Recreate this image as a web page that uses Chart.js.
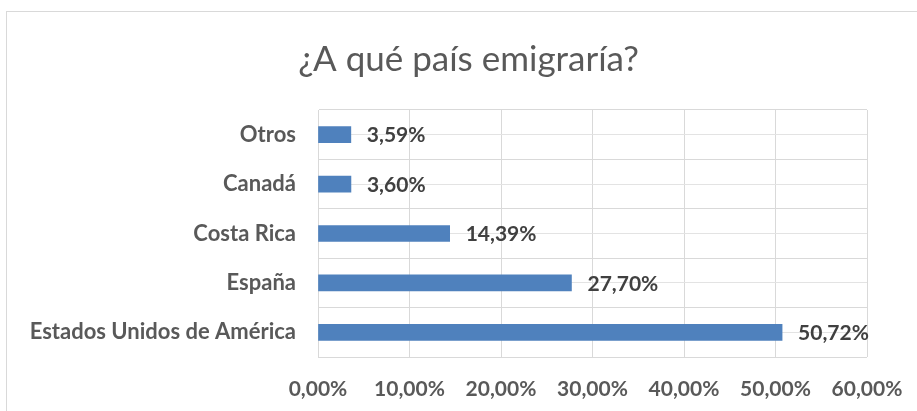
<!DOCTYPE html>
<html>
<head>
<meta charset="utf-8">
<script src="https://cdn.jsdelivr.net/npm/chart.js@4.4.0/dist/chart.umd.min.js"></script>
<style>
  html, body { margin: 0; padding: 0; background: #fff; overflow: hidden; }
  #box { position: absolute; left: 6px; top: 11px; width: 930px; height: 420px; border: 1px solid #d9d9d9; }
  #wrap { position: absolute; left: 0; top: 0; width: 917px; height: 411px; }
</style>
</head>
<body>
<div id="box"></div>
<div id="wrap"><canvas id="chart1"></canvas></div>
<script>
// datos
const paises = ['Otros', 'Canadá', 'Costa Rica', 'España', 'Estados Unidos de América'];
const porcentajes = [3.59, 3.60, 14.39, 27.70, 50.72];
const titulo = '¿A qué país emigraría?';

const fmt = (v) => v.toFixed(2).replace('.', ',') + '%';

// etiquetas de datos al final de cada barra
const etiquetasPlugin = {
  id: 'etiquetas',
  afterDatasetsDraw(chart) {
    const ctx = chart.ctx;
    const meta = chart.getDatasetMeta(0);
    ctx.save();
    ctx.font = 'bold 21px Lato';
    ctx.fillStyle = '#404040';
    ctx.textAlign = 'left';
    ctx.textBaseline = 'middle';
    meta.data.forEach((bar, i) => {
      ctx.fillText(fmt(porcentajes[i]), bar.x + 16, bar.y + 1);
    });
    ctx.restore();
  }
};

const ctx = document.getElementById('chart1').getContext('2d');
const myChart = new Chart(ctx, {
  type: 'bar',
  data: {
    labels: paises,
    datasets: [{
      data: porcentajes,
      backgroundColor: '#4f81bd',
      borderWidth: 0,
      barThickness: 16,
      yAxisID: 'y'
    }]
  },
  options: {
    indexAxis: 'y',
    responsive: true,
    maintainAspectRatio: false,
    animation: false,
    layout: { padding: { left: 20, right: 0, top: 0, bottom: 0 } },
    plugins: {
      legend: { display: false },
      tooltip: { enabled: false },
      title: {
        display: true,
        text: titulo,
        color: '#595959',
        font: { family: 'Lato', size: 35, weight: 'normal', lineHeight: 1.2 },
        padding: { top: 39, bottom: 29 }
      }
    },
    scales: {
      x: {
        min: 0,
        max: 60,
        ticks: {
          stepSize: 10,
          padding: 20,
          color: '#595959',
          font: { family: 'Lato', size: 21, weight: 'bold' },
          callback: (v) => fmt(v)
        },
        grid: { color: '#d9d9d9', lineWidth: 1, drawTicks: false },
        border: { display: false },
        afterFit: (scale) => {
          scale.height = 54;
          scale.paddingLeft = 0;
          scale.paddingRight = 0;
        }
      },
      y: {
        ticks: {
          padding: 22,
          color: '#595959',
          font: { family: 'Lato', size: 22, weight: 'bold' }
        },
        grid: { color: '#d9d9d9', lineWidth: 1, drawTicks: false, offset: true },
        border: { color: '#d9d9d9' },
        afterFit: (scale) => { scale.width = 298; }
      },
      y2: {
        type: 'category',
        position: 'right',
        offset: true,
        ticks: { display: false },
        grid: { color: '#e3e3e3', lineWidth: 1, drawTicks: false, offset: false },
        border: { display: false },
        afterFit: (scale) => { scale.width = 50; }
      }
    }
  },
  plugins: [etiquetasPlugin]
});
</script>
</body>
</html>
